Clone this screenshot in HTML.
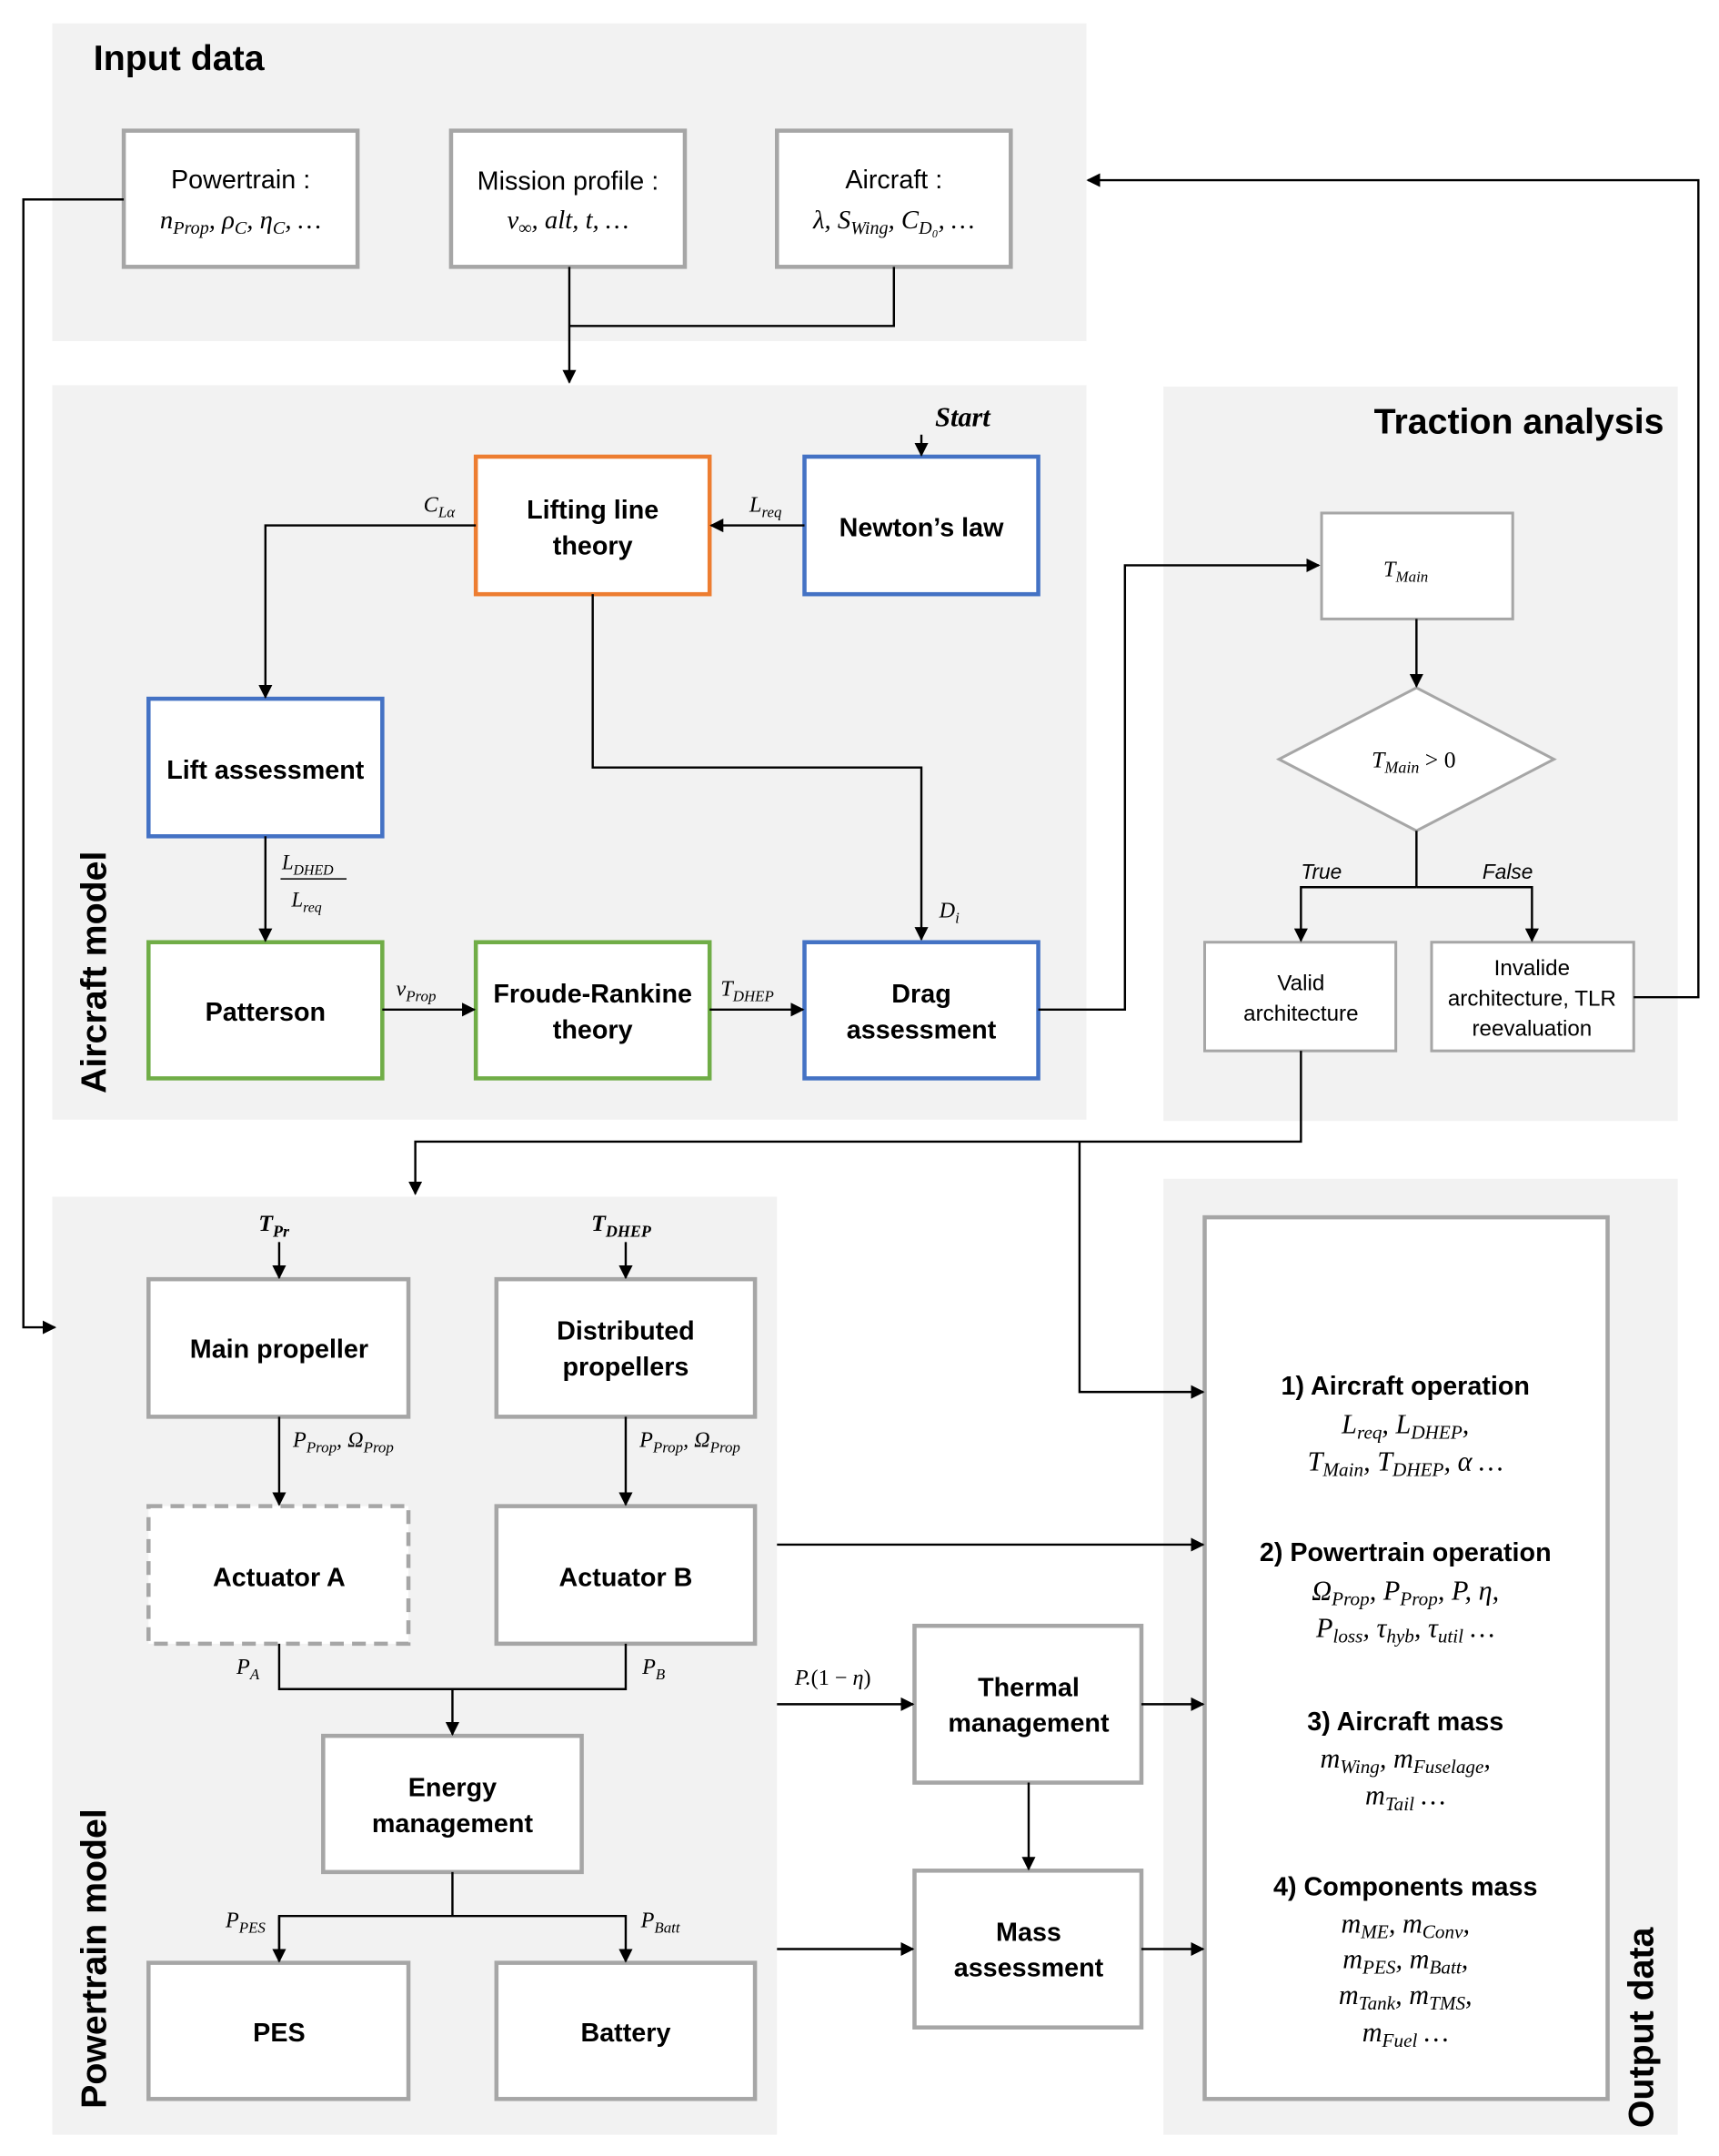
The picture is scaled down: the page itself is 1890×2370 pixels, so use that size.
<!DOCTYPE html>
<html><head><meta charset="utf-8"><style>
html,body{margin:0;padding:0;background:#fff}
svg{display:block}
.t{font-family:"Liberation Sans",sans-serif;fill:#000}
.b{font-weight:bold}
.m{font-family:"Liberation Serif",serif;font-style:italic;fill:#000}
.s{font-size:70%}
</style></head><body>
<svg width="1890" height="2370" viewBox="0 0 1250 1567.46" preserveAspectRatio="none" xmlns="http://www.w3.org/2000/svg">
<defs><marker id="a" markerWidth="10" markerHeight="10" refX="9" refY="5" orient="auto" markerUnits="userSpaceOnUse"><path d="M0,0 L10,5 L0,10 z" fill="#000"/></marker></defs>
<rect width="1250" height="1568" fill="#fff"/>
<!-- panels -->
<g fill="#f2f2f2">
<rect x="38" y="17" width="752" height="231"/>
<rect x="38" y="280" width="752" height="534"/>
<rect x="846" y="281" width="374" height="534"/>
<rect x="38" y="870" width="527" height="682"/>
<rect x="846" y="857" width="374" height="695"/>
</g>
<text class="t b" x="68" y="51" font-size="26">Input data</text>
<text class="t b" x="1210" y="315" font-size="26" text-anchor="end">Traction analysis</text>
<text class="t b" font-size="26" transform="translate(77,795) rotate(-90)">Aircraft model</text>
<text class="t b" font-size="26" transform="translate(77,1533) rotate(-90)">Powertrain model</text>
<text class="t b" font-size="26" transform="translate(1202,1547) rotate(-90)">Output data</text>

<!-- input boxes -->
<g fill="#fff" stroke="#a6a6a6" stroke-width="3">
<rect x="90" y="95" width="170" height="99"/>
<rect x="328" y="95" width="170" height="99"/>
<rect x="565" y="95" width="170" height="99"/>
<rect x="961" y="373" width="139" height="77" stroke-width="2"/>
<polygon points="1030,500 1130,552 1030,604 930,552" stroke-width="2"/>
<rect x="876" y="685" width="139" height="79" stroke-width="2"/>
<rect x="1041" y="685" width="147" height="79" stroke-width="2"/>
<rect x="108" y="930" width="189" height="100"/>
<rect x="361" y="930" width="188" height="100"/>
<rect x="108" y="1095" width="189" height="100" stroke-dasharray="10,6"/>
<rect x="361" y="1095" width="188" height="100"/>
<rect x="235" y="1262" width="188" height="99"/>
<rect x="108" y="1427" width="189" height="99"/>
<rect x="361" y="1427" width="188" height="99"/>
<rect x="665" y="1182" width="165" height="114"/>
<rect x="665" y="1360" width="165" height="114"/>
<rect x="876" y="885" width="293" height="641"/>
</g>
<g fill="#fff" stroke-width="3">
<rect x="346" y="332" width="170" height="100" stroke="#ed7d31"/>
<rect x="585" y="332" width="170" height="100" stroke="#4472c4"/>
<rect x="108" y="508" width="170" height="100" stroke="#4472c4"/>
<rect x="108" y="685" width="170" height="99" stroke="#70ad47"/>
<rect x="346" y="685" width="170" height="99" stroke="#70ad47"/>
<rect x="585" y="685" width="170" height="99" stroke="#4472c4"/>
</g>

<!-- connectors -->
<g fill="none" stroke="#000" stroke-width="1.6">
<polyline points="650,194 650,237 414,237"/>
<polyline points="414,194 414,278" marker-end="url(#a)"/>
<polyline points="90,145 17,145 17,965 40,965" marker-end="url(#a)"/>
<polyline points="670,316 670,331" marker-end="url(#a)"/>
<polyline points="585,382 517,382" marker-end="url(#a)"/>
<polyline points="346,382 193,382 193,507" marker-end="url(#a)"/>
<polyline points="193,608 193,684" marker-end="url(#a)"/>
<polyline points="278,734 345,734" marker-end="url(#a)"/>
<polyline points="516,734 584,734" marker-end="url(#a)"/>
<polyline points="431,432 431,558 670,558 670,683" marker-end="url(#a)"/>
<polyline points="755,734 818,734 818,411 959,411" marker-end="url(#a)"/>
<polyline points="1030,450 1030,499" marker-end="url(#a)"/>
<polyline points="1030,604 1030,645"/>
<polyline points="1030,645 946,645 946,684" marker-end="url(#a)"/>
<polyline points="1030,645 1114,645 1114,684" marker-end="url(#a)"/>
<polyline points="1188,725 1235,725 1235,131 791,131" marker-end="url(#a)"/>
<polyline points="946,764 946,830 302,830 302,868" marker-end="url(#a)"/>
<polyline points="785,830 785,1012 875,1012" marker-end="url(#a)"/>
<polyline points="203,903 203,929" marker-end="url(#a)"/>
<polyline points="455,903 455,929" marker-end="url(#a)"/>
<polyline points="203,1030 203,1094" marker-end="url(#a)"/>
<polyline points="455,1030 455,1094" marker-end="url(#a)"/>
<polyline points="203,1195 203,1228 455,1228 455,1195"/>
<polyline points="329,1228 329,1261" marker-end="url(#a)"/>
<polyline points="329,1361 329,1393"/>
<polyline points="203,1426 203,1393 455,1393 455,1426" marker-end="url(#a)"/>
<polyline points="203,1393 203,1426" marker-end="url(#a)"/>
<polyline points="565,1123 875,1123" marker-end="url(#a)"/>
<polyline points="565,1239 664,1239" marker-end="url(#a)"/>
<polyline points="748,1296 748,1359" marker-end="url(#a)"/>
<polyline points="565,1417 664,1417" marker-end="url(#a)"/>
<polyline points="830,1239 875,1239" marker-end="url(#a)"/>
<polyline points="830,1417 875,1417" marker-end="url(#a)"/>
</g>

<!-- box text -->
<g class="t" font-size="19" text-anchor="middle">
<text x="175" y="137">Powertrain :</text>
<text x="413" y="138">Mission profile :</text>
<text x="650" y="137">Aircraft :</text>
<text x="946" y="720" font-size="16">Valid</text>
<text x="946" y="742" font-size="16">architecture</text>
<text x="1114" y="709" font-size="16">Invalide</text>
<text x="1114" y="731" font-size="16">architecture, TLR</text>
<text x="1114" y="753" font-size="16">reevaluation</text>
</g>
<g class="t b" font-size="19" text-anchor="middle">
<text x="431" y="377">Lifting line</text>
<text x="431" y="403">theory</text>
<text x="670" y="390">Newton’s law</text>
<text x="193" y="566">Lift assessment</text>
<text x="193" y="742">Patterson</text>
<text x="431" y="729">Froude-Rankine</text>
<text x="431" y="755">theory</text>
<text x="670" y="729">Drag</text>
<text x="670" y="755">assessment</text>
<text x="203" y="987">Main propeller</text>
<text x="455" y="974">Distributed</text>
<text x="455" y="1000">propellers</text>
<text x="203" y="1153">Actuator A</text>
<text x="455" y="1153">Actuator B</text>
<text x="329" y="1306">Energy</text>
<text x="329" y="1332">management</text>
<text x="203" y="1484">PES</text>
<text x="455" y="1484">Battery</text>
<text x="748" y="1233">Thermal</text>
<text x="748" y="1259">management</text>
<text x="748" y="1411">Mass</text>
<text x="748" y="1437">assessment</text>
<text x="1022" y="1014">1) Aircraft operation</text>
<text x="1022" y="1135">2) Powertrain operation</text>
<text x="1022" y="1258">3) Aircraft mass</text>
<text x="1022" y="1378">4) Components mass</text>
</g>
<g class="t" font-size="15" font-style="italic">
<text x="946" y="639">True</text>
<text x="1078" y="639">False</text>
</g>

<!-- math -->
<g class="m" font-size="19">
<text x="175" y="166" text-anchor="middle">n<tspan class="s" dy="4">Prop</tspan><tspan dy="-4">, ρ</tspan><tspan class="s" dy="4">C</tspan><tspan dy="-4">, η</tspan><tspan class="s" dy="4">C</tspan><tspan dy="-4">, …</tspan></text>
<text x="413" y="166" text-anchor="middle">v<tspan class="s" dy="4">∞</tspan><tspan dy="-4">, alt, t, …</tspan></text>
<text x="650" y="166" text-anchor="middle">λ, S<tspan class="s" dy="4">Wing</tspan><tspan dy="-4">, C</tspan><tspan class="s" dy="4">D₀</tspan><tspan dy="-4">, …</tspan></text>
<text x="680" y="310" font-weight="bold" font-size="20">Start</text>
<text x="545" y="372" font-size="16">L<tspan class="s" dy="4">req</tspan></text>
<text x="308" y="372" font-size="16">C<tspan class="s" dy="4">Lα</tspan></text>
<text x="205" y="632" font-size="15">L<tspan class="s" dy="4">DHED</tspan></text>
<line x1="204" y1="639" x2="252" y2="639" stroke="#000" stroke-width="1"/>
<text x="212" y="659" font-size="15">L<tspan class="s" dy="4">req</tspan></text>
<text x="288" y="724" font-size="16">v<tspan class="s" dy="4">Prop</tspan></text>
<text x="524" y="724" font-size="16">T<tspan class="s" dy="4">DHEP</tspan></text>
<text x="683" y="667" font-size="16">D<tspan class="s" dy="4">i</tspan></text>
<text x="1006" y="419" font-size="16">T<tspan class="s" dy="4">Main</tspan></text>
<text x="1028" y="558" font-size="17" text-anchor="middle">T<tspan class="s" dy="4">Main</tspan><tspan dy="-4" font-style="normal"> &gt; 0</tspan></text>
<text x="188" y="895" font-weight="bold" font-size="17">T<tspan class="s" dy="4">Pr</tspan></text>
<text x="430" y="895" font-weight="bold" font-size="17">T<tspan class="s" dy="4">DHEP</tspan></text>
<text x="213" y="1052" font-size="16">P<tspan class="s" dy="4">Prop</tspan><tspan dy="-4">, Ω</tspan><tspan class="s" dy="4">Prop</tspan></text>
<text x="465" y="1052" font-size="16">P<tspan class="s" dy="4">Prop</tspan><tspan dy="-4">, Ω</tspan><tspan class="s" dy="4">Prop</tspan></text>
<text x="172" y="1217" font-size="16">P<tspan class="s" dy="4">A</tspan></text>
<text x="467" y="1217" font-size="16">P<tspan class="s" dy="4">B</tspan></text>
<text x="164" y="1401" font-size="16">P<tspan class="s" dy="4">PES</tspan></text>
<text x="466" y="1401" font-size="16">P<tspan class="s" dy="4">Batt</tspan></text>
<text x="578" y="1225" font-size="16">P.<tspan font-style="normal">(1 − </tspan>η<tspan font-style="normal">)</tspan></text>
</g>
<g class="m" font-size="20" text-anchor="middle">
<text x="1022" y="1042">L<tspan class="s" dy="4">req</tspan><tspan dy="-4">, L</tspan><tspan class="s" dy="4">DHEP</tspan><tspan dy="-4">,</tspan></text>
<text x="1022" y="1069">T<tspan class="s" dy="4">Main</tspan><tspan dy="-4">, T</tspan><tspan class="s" dy="4">DHEP</tspan><tspan dy="-4">, α …</tspan></text>
<text x="1022" y="1163">Ω<tspan class="s" dy="4">Prop</tspan><tspan dy="-4">, P</tspan><tspan class="s" dy="4">Prop</tspan><tspan dy="-4">, P, η,</tspan></text>
<text x="1022" y="1190">P<tspan class="s" dy="4">loss</tspan><tspan dy="-4">, τ</tspan><tspan class="s" dy="4">hyb</tspan><tspan dy="-4">, τ</tspan><tspan class="s" dy="4">util</tspan><tspan dy="-4"> …</tspan></text>
<text x="1022" y="1285">m<tspan class="s" dy="4">Wing</tspan><tspan dy="-4">, m</tspan><tspan class="s" dy="4">Fuselage</tspan><tspan dy="-4">,</tspan></text>
<text x="1022" y="1312">m<tspan class="s" dy="4">Tail</tspan><tspan dy="-4"> …</tspan></text>
<text x="1022" y="1405">m<tspan class="s" dy="4">ME</tspan><tspan dy="-4">, m</tspan><tspan class="s" dy="4">Conv</tspan><tspan dy="-4">,</tspan></text>
<text x="1022" y="1431">m<tspan class="s" dy="4">PES</tspan><tspan dy="-4">, m</tspan><tspan class="s" dy="4">Batt</tspan><tspan dy="-4">,</tspan></text>
<text x="1022" y="1457">m<tspan class="s" dy="4">Tank</tspan><tspan dy="-4">, m</tspan><tspan class="s" dy="4">TMS</tspan><tspan dy="-4">,</tspan></text>
<text x="1022" y="1484">m<tspan class="s" dy="4">Fuel</tspan><tspan dy="-4"> …</tspan></text>
</g>
</svg>
</body></html>
